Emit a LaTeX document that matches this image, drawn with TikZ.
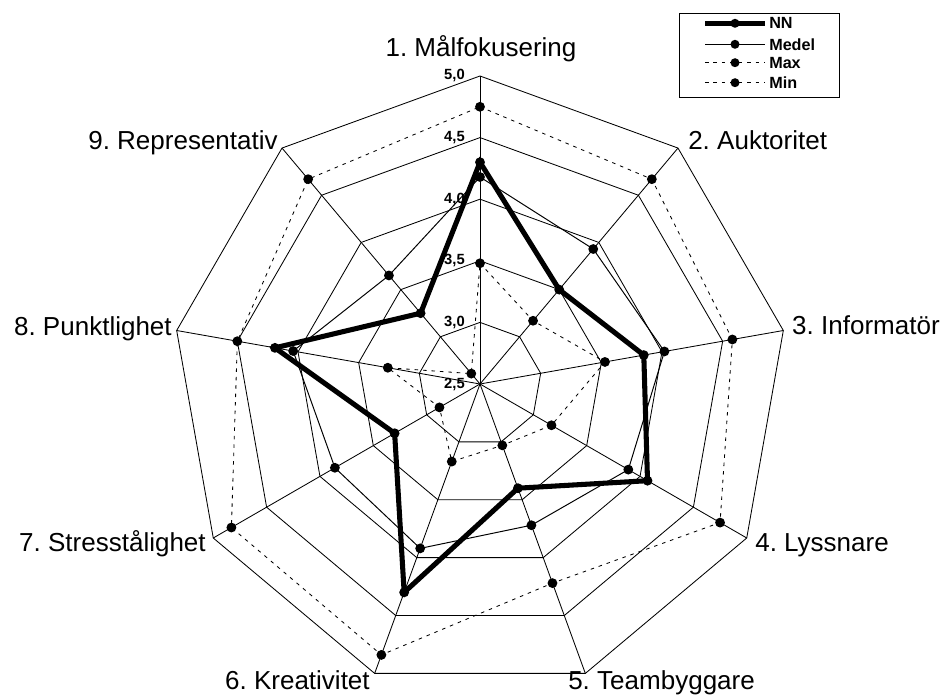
\documentclass[tikz,border=0pt]{standalone}
\usepackage{fontspec}
\setmainfont{Liberation Sans}
\frenchspacing

\begin{document}
\begin{tikzpicture}[
    x=0.025cm, y=0.025cm,
    grid/.style={line width=0.6pt},
    nnline/.style={line width=3.6pt, line join=miter},
    medelline/.style={line width=0.7pt},
    extline/.style={line width=0.6pt, dash pattern=on 2.5pt off 3.5pt},
    axlabel/.style={font=\fontsize{18.5}{22}\selectfont, inner sep=0pt},
    ticklabel/.style={font=\fontsize{10.5}{12}\selectfont\bfseries, inner sep=0pt, anchor=east},
    legtext/.style={font=\fontsize{11.5}{13}\selectfont\bfseries, inner sep=0pt, anchor=west}
]
\useasboundingbox (0,0) rectangle (943,695);

% Nät
\begin{scope}[shift={(480,311)}]
\coordinate (c) at (0,0);
\foreach \r in {1,...,5}
  \draw[grid] (90:{\r*61.6}) \foreach \k in {1,...,8} { -- ({90-\k*40}:{\r*61.6}) } -- cycle;
\foreach \k in {1,...,9} {
  \coordinate (o\k) at ({130-\k*40}:308);
  \draw[grid] (c) -- (o\k);
}

% Skala
\node[ticklabel] (t25) at (-15,0) {2,5};
\node[ticklabel] (t30) at (-15,61.6) {3,0};
\node[ticklabel] (t35) at (-15,123.2) {3,5};
\node[ticklabel] (t40) at (-15,184.8) {4,0};
\node[ticklabel] (t45) at (-15,246.4) {4,5};
\node[ticklabel] (t50) at (-15,308) {5,0};

% Värden
\foreach \v [count=\k] in {3.48,3.17,3.53,3.17,3.03,3.17,2.88,3.26,2.61}
  \coordinate (min\k) at ({130-\k*40}:{(\v-2.5)*123.2});
\foreach \v [count=\k] in {4.75,4.67,4.58,4.75,4.22,4.84,4.83,4.50,4.67}
  \coordinate (max\k) at ({130-\k*40}:{(\v-2.5)*123.2});
\foreach \v [count=\k] in {4.18,3.93,4.02,3.89,3.72,3.92,3.86,4.04,3.65}
  \coordinate (med\k) at ({130-\k*40}:{(\v-2.5)*123.2});
\foreach \v [count=\k] in {4.30,3.50,3.85,4.07,3.40,4.30,3.30,4.19,3.25}
  \coordinate (nn\k) at ({130-\k*40}:{(\v-2.5)*123.2});

\draw[extline] (min1) \foreach \k in {2,...,9} { -- (min\k) } -- cycle;
\draw[extline] (max1) \foreach \k in {2,...,9} { -- (max\k) } -- cycle;
\draw[medelline] (med1) \foreach \k in {2,...,9} { -- (med\k) } -- cycle;
\draw[nnline] (nn1) \foreach \k in {2,...,9} { -- (nn\k) } -- cycle;
\foreach \k in {1,...,9} {
  \fill (min\k) circle (3.5pt);
  \fill (max\k) circle (3.5pt);
  \fill (med\k) circle (3.5pt);
  \fill (nn\k) circle (3.5pt);
}
\end{scope}

% Egenskaper
\node[axlabel, anchor=base] (lab1) at (481,638) {1. Målfokusering};
\node[axlabel, anchor=base west] (lab2) at (688,545) {2. Auktoritet};
\node[axlabel, anchor=base east] (lab3) at (940,360) {3. Informatör};
\node[axlabel, anchor=base west] (lab4) at (755,143) {4. Lyssnare};
\node[axlabel, anchor=base west] (lab5) at (568,5) {5. Teambyggare};
\node[axlabel, anchor=base east] (lab6) at (370,5) {6. Kreativitet};
\node[axlabel, anchor=base east] (lab7) at (206,143) {7. Stresstålighet};
\node[axlabel, anchor=base east] (lab8) at (172,359) {8. Punktlighet};
\node[axlabel, anchor=base east] (lab9) at (278,545) {9. Representativ};

% Förklaring
\draw[line width=0.6pt] (679,598) rectangle (839,682);
\foreach \y/\st/\txt [count=\i] in {671.7/nnline/NN, 650.7/medelline/Medel, 632.3/extline/Max, 612.3/extline/Min} {
  \coordinate (ls\i) at (705,\y);
  \coordinate (lm\i) at (735,\y);
  \coordinate (le\i) at (765,\y);
  \draw[\st] (ls\i) -- (le\i);
  \fill (lm\i) circle (3.2pt);
  \node[legtext] (leg\i) at (769,\y) {\txt};
}

\end{tikzpicture}
\end{document}
